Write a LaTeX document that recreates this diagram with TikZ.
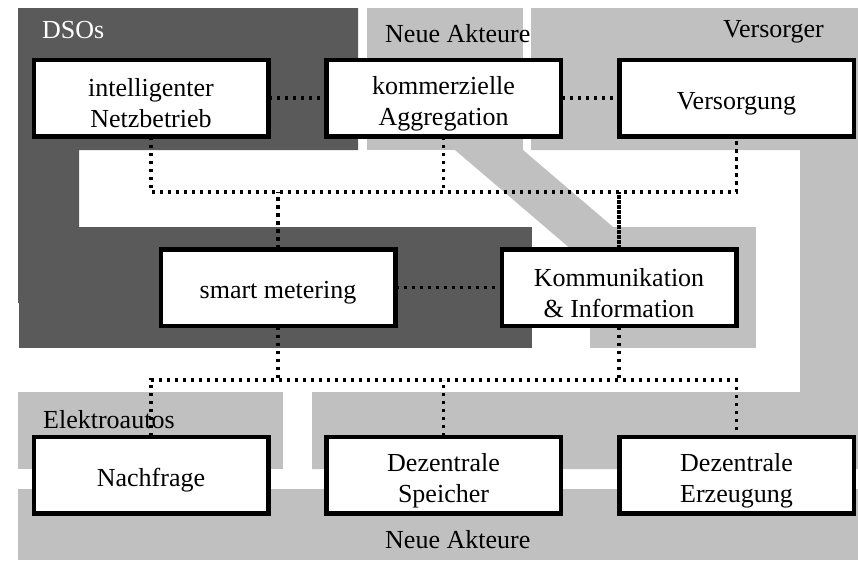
\documentclass[tikz,border=0pt]{standalone}
\usepackage{fontspec}
\setmainfont{Liberation Serif}
\begin{document}
\definecolor{dsogray}{RGB}{90,90,90}
\definecolor{actorgray}{RGB}{192,192,192}
\begin{tikzpicture}[x=1pt,y=-1pt,
  textstyle/.style={font=\fontsize{26}{31}\selectfont},
  block/.style={draw=black, line width=3pt, fill=white,
    minimum width=233pt, minimum height=75pt, inner sep=0pt},
  blocktext/.style={textstyle, align=center, inner sep=0pt, yshift=-5.5pt},
  grouplabel/.style={textstyle, anchor=base west, inner sep=0pt},
  link/.style={line width=3.3pt, dash pattern=on 3.3pt off 4.7pt},
  denselink/.style={line width=3.3pt, dash pattern=on 4pt off 1pt}]
\useasboundingbox (0,0) rectangle (858,560);

% actor regions
\fill[dsogray] (18,8) -- (358,8) -- (358,150) -- (79,150) -- (79,227)
  -- (19,227) -- (19,303) -- (18,303) -- cycle;
\fill[dsogray] (19,227) rectangle (532,348);
\fill[actorgray] (367,8) rectangle (523,150);
\fill[actorgray] (455,150) -- (523,150) -- (640,250) -- (572,250) -- cycle;
\fill[actorgray] (590,227) rectangle (756,348);
\fill[actorgray] (531,8) -- (858,8) -- (858,469) -- (312,469) -- (312,392)
  -- (800,392) -- (800,150) -- (531,150) -- cycle;
\fill[actorgray] (18,392) rectangle (283,469);
\fill[actorgray] (18,489) rectangle (858,560);

% region labels
\node[grouplabel, text=white] (lblDSO) at (42,38) {DSOs};
\node[grouplabel] (lblNeuTop) at (385,42) {Neue Akteure};
\node[grouplabel] (lblVers) at (723,37) {Versorger};
\node[grouplabel] (lblEauto) at (43,428) {Elektroautos};
\node[grouplabel] (lblNeuBot) at (385,548) {Neue Akteure};

% function blocks
\node[block] (netz) at (151,98) {};
\node[block] (aggr) at (443.5,98) {};
\node[block] (versorg) at (736.5,98) {};
\node[block] (smart) at (278,287.5) {};
\node[block] (komm) at (619,287.5) {};
\node[block] (nachfr) at (151,475) {};
\node[block] (speich) at (443.5,475) {};
\node[block] (erzeug) at (736.5,475) {};

% bus coordinates
\coordinate (topL) at (151,192);
\coordinate (topR) at (736.5,192);
\coordinate (botL) at (151,380);
\coordinate (botR) at (736.5,380);

% links
\draw[link] (netz) -- (aggr);
\draw[link] (aggr) -- (versorg);
\draw[link] (smart) -- (komm);
\draw[link] (netz.south) -- (topL) -- (topR) -- (versorg.south);
\draw[link] (aggr.south) -- (aggr.south |- topL);
\draw[link] (smart.north) -- (smart.north |- topL);
\draw[denselink] (komm.north) -- (komm.north |- topL);
\draw[link] (nachfr.north) -- (botL) -- (botR) -- (erzeug.north);
\draw[link] (speich.north) -- (speich.north |- botL);
\draw[link] (smart.south) -- (smart.south |- botL);
\draw[link] (komm.south) -- (komm.south |- botL);

% block borders over the link ends
\foreach \n in {netz,aggr,versorg,smart,komm,nachfr,speich,erzeug}{
  \draw[line width=3pt] (\n.south west) rectangle (\n.north east);}

% block texts
\node[blocktext] (netzT) at (netz) {intelligenter\\Netzbetrieb};
\node[blocktext] (aggrT) at (aggr) {kommerzielle\\Aggregation};
\node[blocktext] (versorgT) at (versorg) {Versorgung};
\node[blocktext] (smartT) at (smart) {smart metering};
\node[blocktext] (kommT) at (komm) {Kommunikation\\\& Information};
\node[blocktext] (nachfrT) at (nachfr) {Nachfrage};
\node[blocktext] (speichT) at (speich) {Dezentrale\\Speicher};
\node[blocktext] (erzeugT) at (erzeug) {Dezentrale\\Erzeugung};
\end{tikzpicture}
\end{document}
